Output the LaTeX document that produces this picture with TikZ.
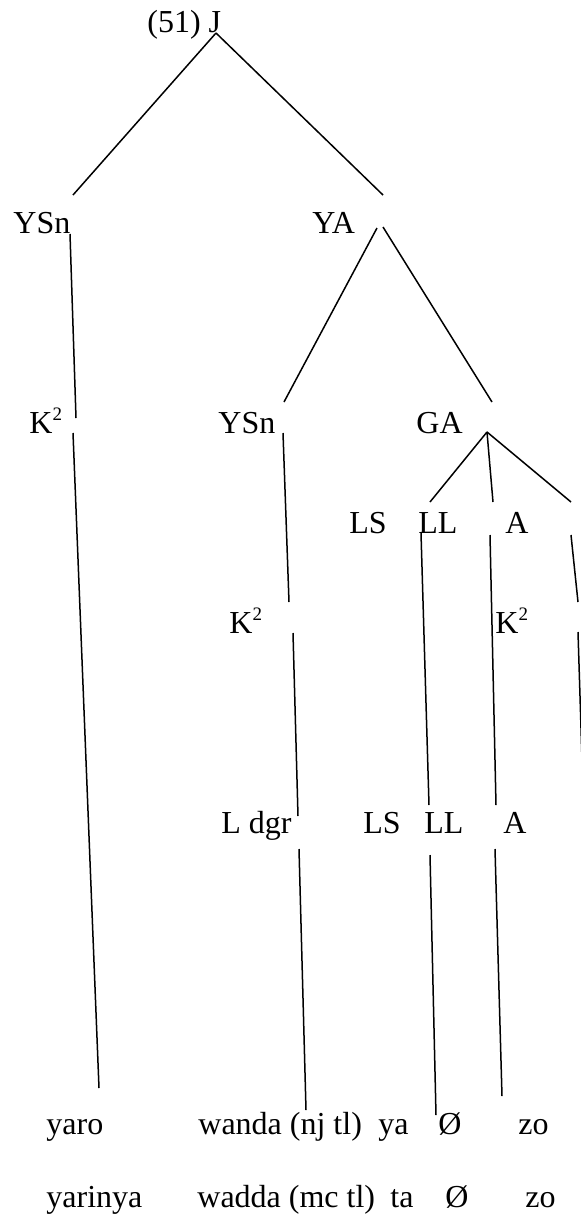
\documentclass[tikz,border=0pt]{standalone}
\usepackage{fontspec}
\setmainfont{Liberation Serif}
\usepackage{tikz}
\usetikzlibrary{positioning}

% K with a raised small 2
\newcommand{\Ksq}{K\raisebox{6.5pt}{\fontsize{9.5}{9.5}\selectfont 2}}

\begin{document}
\begin{tikzpicture}[
    x=0.5pt, y=-0.5pt,
    lbl/.style={anchor=base west, inner sep=0pt, font=\fontsize{16}{18}\selectfont},
    branch/.style={line width=0.75pt, line cap=butt}
]
    \useasboundingbox (0,0) rectangle (581,1217);

    % Category labels
    \node [lbl] (jroot) at (147,32) {(51) J};
    \node [lbl] (ysnA) at (13,233) {YSn};
    \node [lbl] (ya) at (312,233) {YA};
    \node [lbl] (ksqA) at (29,433) {\Ksq};
    \node [lbl] (ysnB) at (218,433) {YSn};
    \node [lbl] (ga) at (416,433) {GA};
    \node [lbl] (lsA) at (349,533) {LS};
    \node [lbl] (llA) at (418,533) {LL};
    \node [lbl] (aA) at (505,533) {A};
    \node [lbl] (ksqB) at (229,633) {\Ksq};
    \node [lbl] (ksqC) at (495,633) {\Ksq};
    \node [lbl] (ldgr) at (221,833) {L dgr};
    \node [lbl] (lsB) at (363,833) {LS};
    \node [lbl] (llB) at (424,833) {LL};
    \node [lbl] (aB) at (503,833) {A};

    % Word rows
    \node [lbl] (yaro) at (46,1134) {yaro};
    \node [lbl] (wanda) at (198,1134) {wanda (nj tl)};
    \node [lbl] (yaW) at (378,1134) {ya};
    \node [lbl] (nulA) at (438,1134) {Ø};
    \node [lbl] (zoA) at (518,1134) {zo};
    \node [lbl] (yarinya) at (46,1207) {yarinya};
    \node [lbl] (wadda) at (197,1207) {wadda (mc tl)};
    \node [lbl] (taW) at (390,1207) {ta};
    \node [lbl] (nulB) at (445,1207) {Ø};
    \node [lbl] (zoB) at (525,1207) {zo};

    % Branch end points
    \coordinate (j-dn) at (216,33);
    \coordinate (ysnA-up) at (73,195);
    \coordinate (ya-up) at (383,195);
    \coordinate (ysnA-dn) at (70,234);
    \coordinate (ksqA-up) at (76,418);
    \coordinate (ksqA-dn) at (73,433);
    \coordinate (yaro-up) at (99,1088);
    \coordinate (ya-dnL) at (377,228);
    \coordinate (ya-dnR) at (383,227);
    \coordinate (ysnB-up) at (284,402);
    \coordinate (ga-up) at (492,402);
    \coordinate (ysnB-dn) at (283,433);
    \coordinate (ksqB-up) at (289,602);
    \coordinate (ksqB-dn) at (293,633);
    \coordinate (ldgr-up) at (298,816);
    \coordinate (ldgr-dn) at (299,849);
    \coordinate (wanda-up) at (306,1110);
    \coordinate (ga-dn) at (487,432);
    \coordinate (llA-up) at (430,502);
    \coordinate (aA-up) at (493,502);
    \coordinate (edge-up) at (571,502);
    \coordinate (llA-dn) at (421,533);
    \coordinate (llB-up) at (429,805);
    \coordinate (llB-dn) at (430,855);
    \coordinate (nul-up) at (436,1115);
    \coordinate (aA-dn) at (490,535);
    \coordinate (aB-up) at (496,805);
    \coordinate (aB-dn) at (495,849);
    \coordinate (zo-up) at (502,1096);
    \coordinate (edge-dn) at (571,535);
    \coordinate (edge-mid) at (578,602);
    \coordinate (edge-mid2) at (578,632);
    \coordinate (edge-end) at (582,760);

    % Branches
    \foreach \from/\to in {j-dn/ysnA-up, j-dn/ya-up, ysnA-dn/ksqA-up, ksqA-dn/yaro-up,
        ya-dnL/ysnB-up, ya-dnR/ga-up, ysnB-dn/ksqB-up, ksqB-dn/ldgr-up, ldgr-dn/wanda-up,
        ga-dn/llA-up, ga-dn/aA-up, ga-dn/edge-up, llA-dn/llB-up, llB-dn/nul-up,
        aA-dn/aB-up, aB-dn/zo-up, edge-dn/edge-mid, edge-mid2/edge-end} {
        \draw [branch] (\from) -- (\to);
    }
\end{tikzpicture}
\end{document}
